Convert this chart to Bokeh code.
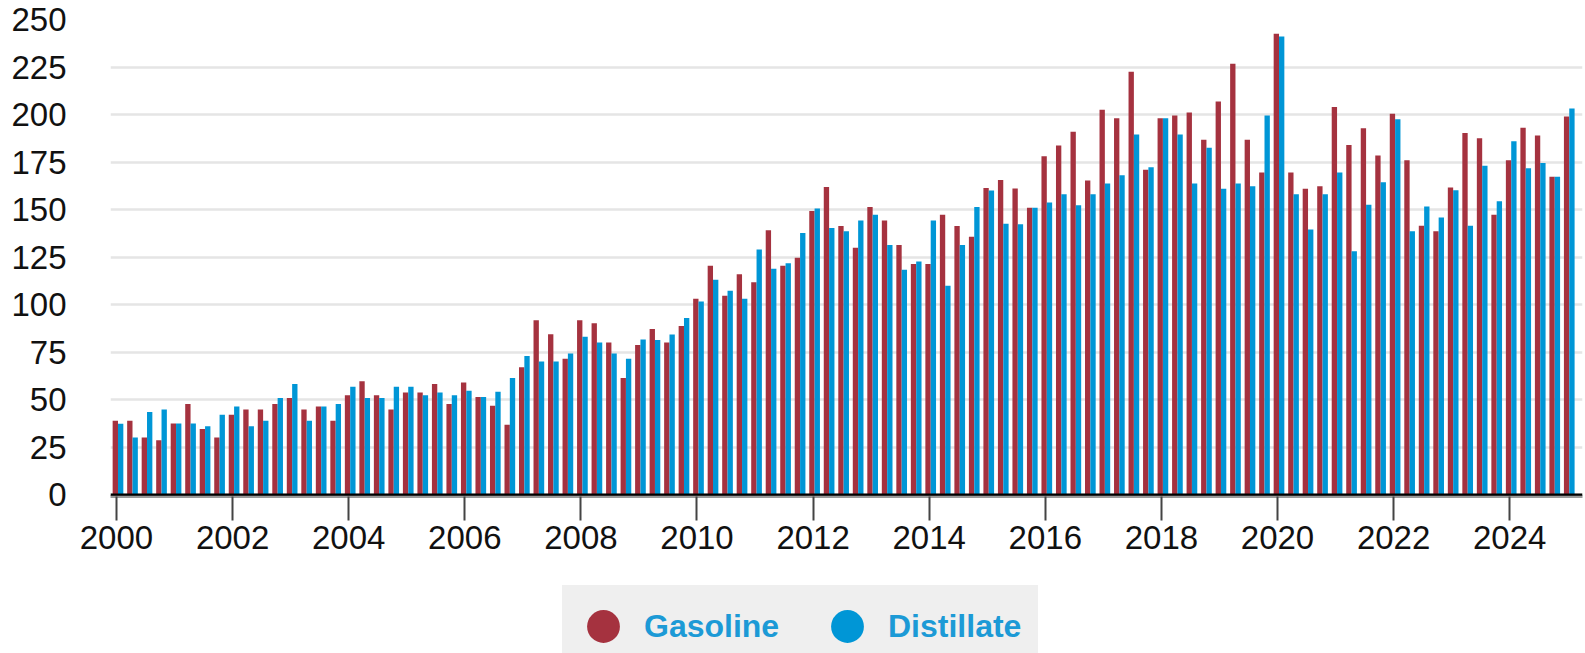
from bokeh.plotting import figure
from bokeh.layouts import column
from bokeh.models import (ColumnDataSource, FixedTicker, Span, Legend, LegendItem,
                          Range1d)
from bokeh.embed import file_html
from bokeh.resources import INLINE

# Quarterly categories 2000Q1 .. 2025Q1
quarters = [f"{y}Q{q}" for y in range(2000, 2026) for q in range(1, 5)][:101]

gasoline = [
    38.9, 38.9, 30.0, 28.6,
    37.4, 47.7, 34.5, 30.0,
    42.0, 44.8, 44.8, 47.7,
    50.8, 44.8, 46.3, 38.9,
    52.3, 59.7, 52.3, 44.8,
    53.7, 53.7, 58.2, 47.7,
    59.0, 51.4, 46.8, 36.7,
    67.0, 91.7, 84.4, 71.5,
    91.7, 90.2, 80.1, 61.3,
    78.7, 87.2, 80.0, 88.7,
    103.0, 120.4, 104.6, 115.9,
    111.7, 139.1, 120.4, 124.6,
    149.2, 161.8, 141.4, 129.9,
    151.4, 144.2, 131.3, 121.3,
    121.3, 147.2, 141.4, 135.7,
    161.4, 165.5, 161.1, 150.9,
    178.1, 183.7, 190.9, 165.3,
    202.5, 198.1, 222.5, 170.9,
    198.1, 199.5, 201.0, 186.7,
    206.8, 226.7, 186.7, 169.5,
    242.5, 169.5, 160.9, 162.3,
    203.9, 183.9, 192.8, 178.4,
    200.4, 175.9, 141.5, 138.6,
    161.6, 190.3, 187.5, 147.2,
    175.9, 193.1, 188.9, 167.3,
    198.9,
]

distillate = [
    37.3, 30.0, 43.4, 44.8,
    37.4, 37.4, 36.0, 42.0,
    46.3, 36.0, 38.9, 50.8,
    58.2, 38.9, 46.3, 47.7,
    56.8, 50.8, 50.8, 56.8,
    56.8, 52.3, 53.7, 52.3,
    54.7, 51.4, 54.1, 61.3,
    72.9, 70.0, 70.0, 74.3,
    83.0, 80.1, 74.3, 71.5,
    81.6, 81.4, 84.2, 92.9,
    101.6, 113.1, 107.3, 103.0,
    129.0, 118.9, 121.8, 137.7,
    150.6, 140.3, 138.6, 144.2,
    147.2, 131.3, 118.3, 122.7,
    144.2, 109.9, 131.3, 151.4,
    160.0, 142.5, 142.3, 150.9,
    153.7, 158.1, 152.3, 158.1,
    163.7, 168.1, 189.5, 172.3,
    198.1, 189.5, 163.7, 182.5,
    160.9, 163.7, 162.3, 199.5,
    241.0, 158.1, 139.5, 158.1,
    169.5, 128.1, 152.5, 164.3,
    197.5, 138.6, 151.6, 145.8,
    160.2, 141.5, 173.1, 154.4,
    185.9, 171.7, 174.5, 167.3,
    203.2,
]

series_names = ["Gasoline", "Distillate"]
y_ticks = [0, 25, 50, 75, 100, 125, 150, 175, 200, 225, 250]
x_ticks = list(range(2000, 2026, 2))

RED = "#a5323f"
BLUE = "#0096d6"
FONT = "Liberation Sans"

t = [int(q[:4]) + (int(q[-1]) - 1) * 0.25 for q in quarters]
BW = 0.092
src = ColumnDataSource(dict(
    xg=[v - 0.02 for v in t],
    xd=[v - 0.02 + BW for v in t],
    gasoline=gasoline,
    distillate=distillate,
))

p = figure(width=1585, height=565, output_backend="svg", toolbar_location=None,
           x_range=Range1d(1999.897, 2025.254), y_range=Range1d(-1, 250),
           min_border_left=110, min_border_right=3, min_border_top=19,
           min_border_bottom=69)
p.outline_line_color = None
p.background_fill_color = "white"
p.border_fill_color = "white"

p.xgrid.grid_line_color = None
p.ygrid.grid_line_color = "#e5e5e5"
p.ygrid.grid_line_width = 2.5

p.vbar(x="xg", top="gasoline", bottom=0, width=BW, source=src,
       fill_color=RED, line_color=None)
p.vbar(x="xd", top="distillate", bottom=0, width=BW, source=src,
       fill_color=BLUE, line_color=None)

p.add_layout(Span(location=0, dimension="width", line_color="black",
                  line_width=2.4))

# axes
p.yaxis.ticker = FixedTicker(ticks=y_ticks)
p.yaxis.axis_line_color = None
p.yaxis.major_tick_line_color = None
p.yaxis.minor_tick_line_color = None
p.yaxis.major_tick_out = 0
p.yaxis.major_label_standoff = 44
p.yaxis.major_label_text_font = FONT
p.yaxis.major_label_text_font_size = "33px"
p.yaxis.major_label_text_color = "#111111"

p.xaxis.ticker = FixedTicker(ticks=x_ticks)
p.xaxis.axis_line_color = "#9a9a9a"
p.xaxis.axis_line_width = 3
p.xaxis.major_tick_line_color = "#444444"
p.xaxis.major_tick_line_width = 2
p.xaxis.major_tick_out = 24
p.xaxis.major_tick_in = 0
p.xaxis.minor_tick_line_color = None
p.xaxis.major_label_standoff = 5
p.xaxis.major_label_text_font = FONT
p.xaxis.major_label_text_font_size = "33px"
p.xaxis.major_label_text_color = "#111111"

# legend panel (separate strip under the chart)
lf = figure(width=1585, height=88, output_backend="svg", toolbar_location=None,
            x_range=Range1d(0, 1), y_range=Range1d(0, 1),
            min_border_left=0, min_border_right=0, min_border_top=0,
            min_border_bottom=0)
lf.axis.visible = False
lf.grid.visible = False
lf.outline_line_color = None
lf.background_fill_color = "white"
lf.border_fill_color = "white"
dg = lf.scatter(x=[5], y=[5], marker="circle", size=10, fill_color=RED,
                line_color=None)
dd = lf.scatter(x=[5], y=[5], marker="circle", size=10, fill_color=BLUE,
                line_color=None)
legend = Legend(items=[LegendItem(label=series_names[0], renderers=[dg]),
                       LegendItem(label=series_names[1], renderers=[dd])],
                orientation="horizontal", location=(452, -14),
                glyph_width=82, glyph_height=82, label_standoff=0,
                label_width=150, spacing=12, padding=0, margin=0,
                background_fill_color="#efefef", background_fill_alpha=1.0,
                border_line_color=None,
                label_text_font=FONT, label_text_font_style="bold",
                label_text_font_size="32px", label_text_color="#1c9ad6")
lf.add_layout(legend, "center")

layout = column(p, lf, spacing=0)
open("out.html", "w").write(file_html(layout, INLINE))
